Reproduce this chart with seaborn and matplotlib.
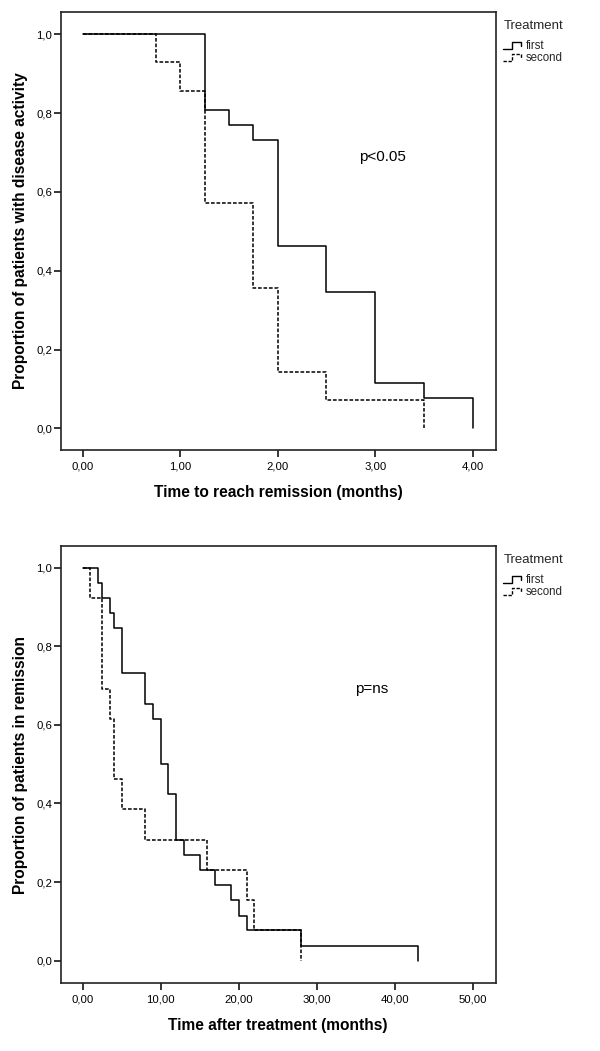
import numpy as np
import pandas as pd
import matplotlib
matplotlib.use("Agg")
import matplotlib.pyplot as plt
import seaborn as sns
from matplotlib.lines import Line2D
from matplotlib.legend_handler import HandlerBase
from matplotlib.ticker import FuncFormatter

# ---- data (Kaplan-Meier steps) ----
groups = ["first", "second"]

top_first_t = [0, 1.25, 1.5, 1.75, 2.0, 2.5, 3.0, 3.5, 4.0]
top_first_s = [1.0, 0.808, 0.769, 0.731, 0.462, 0.346, 0.115, 0.077, 0.0]
top_second_t = [0, 0.75, 1.0, 1.25, 1.75, 2.0, 2.5, 3.5]
top_second_s = [1.0, 0.929, 0.857, 0.571, 0.357, 0.143, 0.071, 0.0]

bot_first_t = [0, 2, 2.5, 3.5, 4, 5, 8, 9, 10, 11, 12, 13, 15, 17, 19, 20, 21, 28, 43]
bot_first_s = [1.0, 0.962, 0.923, 0.885, 0.846, 0.731, 0.654, 0.615, 0.5, 0.423,
               0.308, 0.269, 0.231, 0.192, 0.154, 0.115, 0.077, 0.038, 0.0]
bot_second_t = [0, 1, 2.5, 3.5, 4, 5, 8, 16, 21, 22, 28]
bot_second_s = [1.0, 0.923, 0.692, 0.615, 0.462, 0.385, 0.308, 0.231, 0.154, 0.077, 0.0]

top_xticks = [0, 1, 2, 3, 4]
bot_xticks = [0, 10, 20, 30, 40, 50]
yticks = [0.0, 0.2, 0.4, 0.6, 0.8, 1.0]

top_xlabel = "Time to reach remission (months)"
top_ylabel = "Proportion of patients with disease activity"
bot_xlabel = "Time after treatment (months)"
bot_ylabel = "Proportion of patients in remission"
top_note = "p<0.05"
bot_note = "p=ns"
legend_title = "Treatment"


def make_df(ft, fs, st, ss):
    return pd.concat([
        pd.DataFrame({"time": ft, "surv": fs, "group": groups[0]}),
        pd.DataFrame({"time": st, "surv": ss, "group": groups[1]}),
    ], ignore_index=True)


df_top = make_df(top_first_t, top_first_s, top_second_t, top_second_s)
df_bot = make_df(bot_first_t, bot_first_s, bot_second_t, bot_second_s)

sns.set_theme(style="white")
plt.rcParams["font.family"] = ["Liberation Sans", "DejaVu Sans"]

W, H = 600, 1051
fig = plt.figure(figsize=(W / 100, H / 100), dpi=100)
L, R = 61, 495.5
ax1 = fig.add_axes([L / W, 1 - 449.5 / H, (R - L) / W, (449.5 - 12) / H])
ax2 = fig.add_axes([L / W, 1 - 983 / H, (R - L) / W, (983 - 546) / H])

DASH = (2.4, 1.2)


class StepHandler(HandlerBase):
    def create_artists(self, legend, orig_handle, xdescent, ydescent,
                       width, height, fontsize, trans):
        x0, y0 = -xdescent, -ydescent
        xs = [x0, x0 + 0.42 * width, x0 + 0.42 * width, x0 + 0.85 * width, x0 + 0.85 * width]
        ys = [y0 + 0.0 * height, y0 + 0.0 * height, y0 + 0.9 * height,
              y0 + 0.9 * height, y0 + 0.45 * height]
        line = Line2D(xs, ys)
        line.update_from(orig_handle)
        line.set_data(xs, ys)
        line.set_transform(trans)
        return [line]


def draw(ax, df, xlim, ylim, xticks, xlabel, ylabel, note, note_xy, leg_top_px):
    sns.lineplot(data=df, x="time", y="surv", style="group",
                 dashes={groups[0]: "", groups[1]: DASH},
                 color="black", linewidth=1.1, drawstyle="steps-post",
                 estimator=None, sort=False, legend=False, ax=ax)
    ax.set_xlim(*xlim)
    ax.set_ylim(*ylim)
    ax.set_xticks(xticks)
    ax.set_yticks(yticks)
    ax.xaxis.set_major_formatter(FuncFormatter(lambda v, p: "{:.2f}".format(v).replace(".", ",")))
    ax.yaxis.set_major_formatter(FuncFormatter(lambda v, p: "{:.1f}".format(v).replace(".", ",")))
    ax.tick_params(axis="both", which="major", direction="out", length=5, width=1.1,
                   labelsize=8.2, colors="black")
    ax.tick_params(axis="x", pad=3.5)
    ax.tick_params(axis="y", pad=1.5)
    ax.tick_params(top=False, right=False, bottom=True, left=True)
    for s in ax.spines.values():
        s.set_visible(True)
        s.set_color("#222222")
        s.set_linewidth(1.2)
    ax.set_xlabel(xlabel, fontsize=11.2, fontweight="bold", labelpad=9.5, color="black")
    ax.set_ylabel(ylabel, fontsize=11.2, fontweight="bold", labelpad=6, color="black")
    ax.text(note_xy[0], note_xy[1], note, fontsize=11, ha="center", va="center", color="black")
    handles = [Line2D([], [], color="black", lw=1.0, linestyle="-"),
               Line2D([], [], color="black", lw=1.0, linestyle=(0, DASH))]
    leg = ax.legend(handles, groups, title=legend_title, loc="upper left",
                    bbox_to_anchor=(503.5 / W, 1 - leg_top_px / H),
                    bbox_transform=fig.transFigure, frameon=False,
                    handler_map={Line2D: StepHandler()},
                    fontsize=8.3, title_fontsize=9.5, handlelength=1.75,
                    handletextpad=0.2, labelspacing=0.0, borderaxespad=0,
                    borderpad=0, handleheight=0.6)
    leg._legend_box.align = "left"
    leg._legend_box.sep = 6.0


draw(ax1, df_top, (-0.2226, 4.234), (-0.0538, 1.0566), top_xticks,
     top_xlabel, top_ylabel, top_note, (3.07, 0.689), 20)
draw(ax2, df_bot, (-2.78, 52.92), (-0.0567, 1.055), bot_xticks,
     bot_xlabel, bot_ylabel, bot_note, (37.0, 0.69), 554)

fig.savefig("out.png", dpi=100)
